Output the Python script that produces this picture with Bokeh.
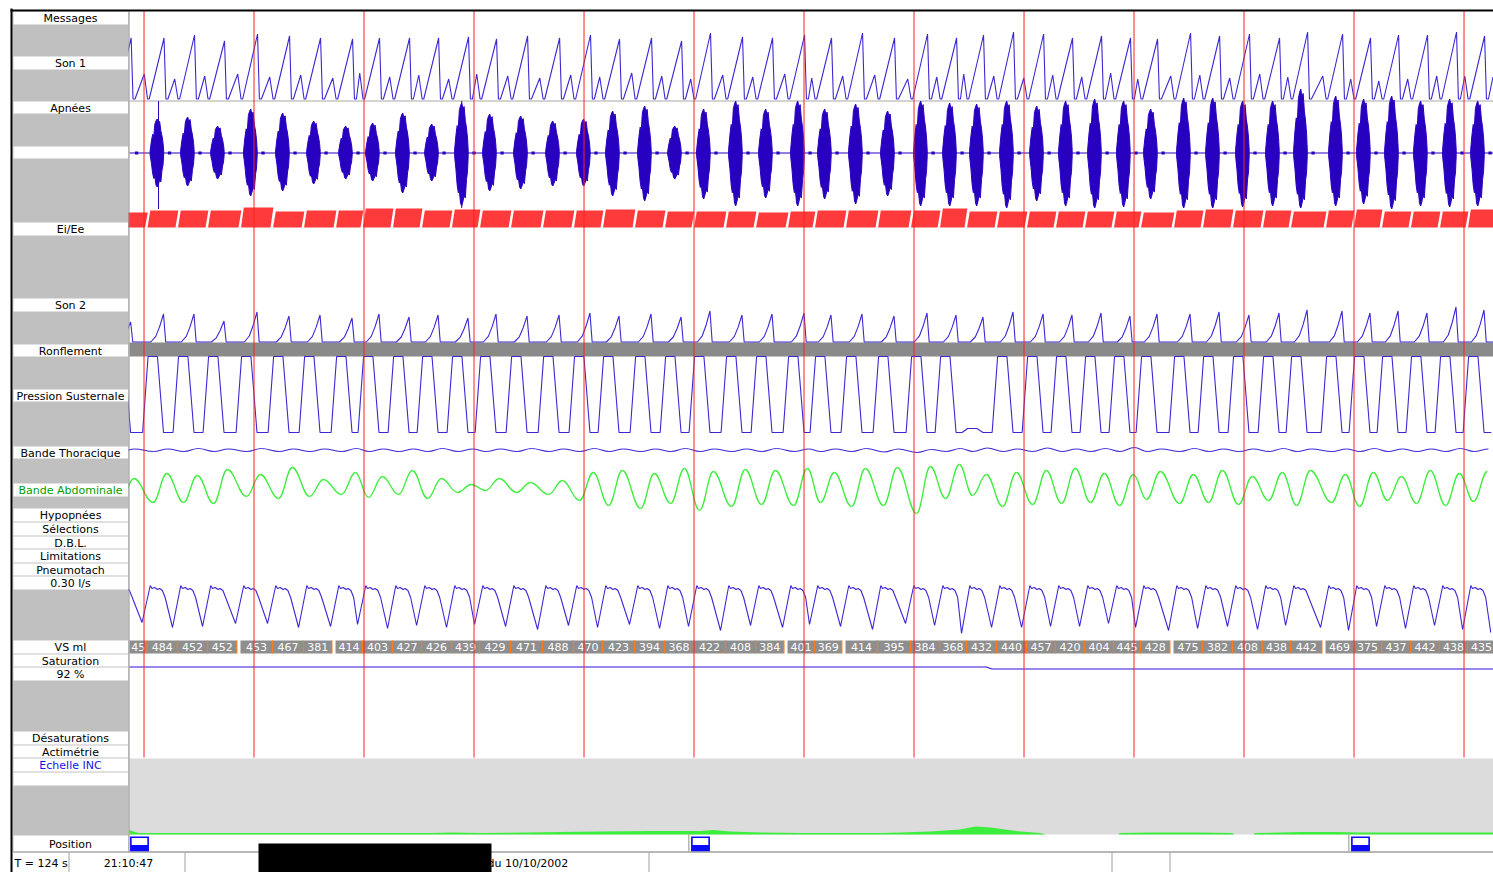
from bokeh.plotting import figure
from bokeh.models import Range1d
from bokeh.core.properties import value
from bokeh.embed import file_html
from bokeh.resources import INLINE

# ------------------------------------------------------------------ data
window_label = "T = 124 s"
start_clock = "21:10:47"
record_date = "du 10/10/2002"

breath_t = [-1.4, 1.59, 4.36, 7.09, 10.09, 13.0, 15.82, 18.73, 21.18, 23.91,
            26.55, 29.27, 31.82, 34.64, 37.55, 40.36, 43.0, 45.91, 48.64, 51.27,
            54.18, 56.91, 59.82, 62.27, 65.09, 68.0, 71.0, 73.64, 76.09, 78.82,
            81.55, 84.18, 86.82, 89.45, 91.91, 94.91, 97.55, 100.27, 103.0, 105.55,
            108.73, 111.27, 113.82, 116.45, 119.09, 121.64]
breath_end = 124.2

# tidal volume per cycle (ml)
vs_ml = [45, 484, 452, 452, 453, 467, 381, 414, 403, 427,
         426, 439, 429, 471, 488, 470, 423, 394, 368, 422,
         408, 384, 401, 369, 414, 395, 384, 368, 432, 440,
         457, 420, 404, 445, 428, 475, 382, 408, 438, 442,
         469, 375, 437, 442, 438, 435]
vs_gap_after = [3, 6, 21, 23, 34, 39]

# Son 1 : main and secondary peak heights
son1_big = [61, 61, 64, 58, 65, 63, 61, 60, 61, 61,
            61, 62, 60, 63, 61, 64, 60, 61, 58, 66,
            62, 61, 64, 61, 66, 61, 65, 61, 64, 67,
            65, 61, 63, 61, 60, 66, 63, 65, 61, 67,
            65, 61, 64, 64, 67, 63]
son1_small = [25, 20, 23, 25, 22, 24, 21, 26, 22, 24,
              20, 25, 23, 21, 24, 22, 26, 23, 20, 24,
              22, 25, 21, 23, 24, 20, 22, 25, 23, 21,
              24, 22, 26, 20, 23, 24, 21, 25, 22, 23,
              20, 18, 20, 23, 23, 22]
# Apnées : burst envelope (up / down)
apn_up = [40, 34, 36, 27, 44, 40, 32, 27, 30, 40,
          29, 50, 39, 37, 32, 34, 42, 47, 27, 44,
          52, 44, 52, 44, 49, 42, 52, 50, 49, 52,
          47, 52, 54, 52, 44, 55, 55, 52, 52, 64,
          57, 54, 57, 52, 54, 52]
apn_dn = [40, 34, 33, 26, 43, 38, 31, 26, 28, 40,
          28, 53, 38, 36, 33, 33, 43, 48, 26, 46,
          53, 45, 53, 46, 51, 43, 53, 53, 53, 55,
          48, 53, 55, 54, 46, 55, 55, 54, 53, 55,
          53, 51, 56, 53, 54, 53]
apn_spike_t = [2.64, 30.2]
apn_spike_up = [52, 52]
apn_spike_dn = [56, 55]
# Ei/Ee bar height per cycle
eie_amp = [15, 17, 17, 17, 20, 16, 17, 17, 19, 19,
           17, 18, 17, 17, 17, 17, 18, 17, 16, 16,
           16, 15, 16, 17, 17, 17, 17, 19, 16, 16,
           16, 16, 16, 16, 15, 17, 18, 17, 17, 16,
           17, 18, 16, 16, 16, 18]
# Son 2 peak heights
son2_amp = [20, 28, 28, 21, 30, 26, 27, 24, 28, 25,
            27, 24, 28, 26, 27, 29, 26, 28, 25, 31,
            27, 28, 29, 27, 28, 26, 29, 27, 25, 30,
            28, 27, 29, 26, 28, 28, 30, 27, 29,
            32, 31, 29, 31, 29, 35, 32]
# Pression susternale swing (76 = full scale)
pres_amp = [76] * 28 + [4] + [76] * 17
# Bande thoracique
thor_bump = [1.5, 1.5, 2, 1.5, 2, 1.5, 1.5, 2, 1.5, 1.5,
             2, 1.5, 1.5, 2, 1.5, 2, 1.5, 1.5, 2, 1.5,
             1.5, 2, 1.5, 1.5, 2, 1.5, 1, 2, 2.5, 1.5,
             2.5, 1.5, 2, 3, 1.5, 2, 1.5, 1.5, 2, 1.5,
             1.5, 2, 1.5, 1.5, 2, 1.5]
thor_dip = [1, 1, 1, 1, 1, 1, 1, 1, 1, 1,
            1, 1, 1, 1, 1, 1, 1, 1, 1, 1,
            1, 1, 1, 1, 1, 1.5, 2, 1, 1, 1,
            1, 1, 1, 1, 1, 1, 1, 1, 1, 1,
            1, 1, 1, 1, 1, 1]
# Bande abdominale : peak / trough per cycle
abd_peak = [10, 15, 13, 19, 14, 21, 9, 16, 12, 18,
            10, 4, 10, 6, 8, 16, 18, 15, 20, 17,
            19, 18, 20, 16, 20, 21, 22, 24, 14, 16,
            18, 20, 15, 14, 17, 14, 18, 12, 16, 18,
            14, 16, 12, 18, 15, 17]
abd_trough = [-12, -14, -14, -15, -8, -10, -8, -6, -9, -6,
              -10, -4, -2, -4, -6, -12, -17, -20, -15, -22,
              -18, -16, -17, -14, -18, -17, -25, -10, -7, -18,
              -16, -15, -14, -17, -11, -15, -14, -16, -12, -17,
              -14, -18, -12, -15, -17, -13]
# Pneumotach : inspiratory dip depth
pn_depth = [34, 39, 38, 35, 35, 39, 38, 36, 40, 37,
            39, 36, 38, 41, 37, 39, 36, 40, 38, 42,
            37, 39, 36, 38, 41, 35, 37, 45, 39, 39,
            38, 38, 35, 39, 42, 40, 38, 41, 37, 39,
            42, 38, 40, 37, 41, 44]
# Saturation (%)
sat_t = [0.0, 77.9, 78.4, 124.2]
sat_pct = [92.0, 92.0, 91.8, 91.8]
# Actimetry (INC scale)
inc_t = [0, 0.36, 0.82, 15.5, 27.4, 29.2, 31.9, 39.2, 42.8, 47.4,
         51.9, 53.1, 54.6, 57.4, 61.0, 68.3, 70.1, 72.8, 75.5, 76.9,
         78.3, 79.6, 81.0, 82.8, 83.3, 89.9, 90.0, 92.8, 97.2, 100.3,
         100.4, 102.2, 102.3, 106.5, 109.5, 111.9, 124.0]
inc_h = [4.5, 3, 1.5, 1.5, 1.5, 2, 1.5, 2.5, 3, 3.5,
         3.5, 4.5, 3, 2, 1.5, 1.5, 2, 3, 5, 8,
         7, 5, 3, 1.5, 0, 0, 1.5, 2, 2, 1.5,
         0, 0, 1.5, 2.5, 2.5, 2, 2]
# body position records
position_t = [0.0, 51.0, 111.0]
# 10 s time marks
mark_t = [1.32, 11.32, 21.32, 31.32, 41.32, 51.32, 61.32, 71.32, 81.32,
          91.32, 101.32, 111.32, 121.32]

# ------------------------------------------------------------------ layout
W, H = 1493, 872
PXS = 11.0                       # pixels per second


def X(px):
    return (px - 129) / PXS


FONT = value("DejaVu Sans")
BLUE = "#3a28d4"
DBLUE = "#2800c0"
GREEN = "#3cee3c"
RED = "#ff2020"
END = X(1493)

p = figure(width=W, height=H, x_range=Range1d(X(0), X(W)),
           y_range=Range1d(H, 0), output_backend="svg",
           toolbar_location=None, x_axis_location=None, y_axis_location=None,
           min_border=0, outline_line_color=None,
           background_fill_color="white", border_fill_color="white")
for g in p.grid:
    g.visible = False

nexts = breath_t[1:] + [breath_end]

# backgrounds
p.quad(left=0, right=END, top=758, bottom=834, fill_color="#dcdcdc", line_color=None)
p.quad(left=0, right=END, top=342, bottom=356, fill_color="#8a8a8a", line_color=None)
p.segment(x0=0, y0=100.5, x1=END, y1=100.5, line_color="#a8a8a8", line_width=1)

# Son 1
S1 = 98.5
sx, sy = [], []
for b, nb, big, small in zip(breath_t, nexts, son1_big, son1_small):
    sx += [b + 0.05, b + 0.2, b + 1.55, b + 1.72, b + 1.9, nb - 0.25]
    sy += [S1, S1, S1 - big, S1, S1, S1 - small]
p.line(sx, sy, line_color=BLUE, line_width=1.1)

# Apnées
A0 = 152.5
p.segment(x0=0, y0=A0, x1=END, y1=A0, line_color=DBLUE, line_width=1.2)
dxs = [-1.0, -0.8, -0.62, -0.45, -0.3, -0.12, 0.05, 0.22, 0.4, 0.58, 0.75, 0.9, 1.0]
fu = [0.05, 0.35, 0.55, 0.5, 0.85, 0.95, 1.0, 0.88, 0.93, 0.65, 0.5, 0.3, 0.05]
fd = [0.05, 0.3, 0.6, 0.75, 0.7, 0.95, 1.0, 0.92, 0.8, 0.85, 0.5, 0.35, 0.05]
bxs, bys = [], []
for b, u, d in zip(breath_t[1:], apn_up[1:], apn_dn[1:]):
    c, w = b + 0.9, 0.62
    xs = [c + k * w for k in dxs] + [c + k * w for k in reversed(dxs)]
    ys = [A0 - f * u for f in fu] + [A0 + f * d for f in reversed(fd)]
    bxs.append(xs)
    bys.append(ys)
p.patches(bxs, bys, fill_color=DBLUE, line_color=DBLUE, line_width=1)
p.quad(left=[b + 1.9 for b in breath_t], right=[b + 2.2 for b in breath_t],
       top=A0 - 1.5, bottom=A0 + 1.5, fill_color=DBLUE, line_color=None)
p.segment(x0=apn_spike_t, x1=apn_spike_t,
          y0=[A0 - u for u in apn_spike_up], y1=[A0 + d for d in apn_spike_dn],
          line_color=DBLUE, line_width=1)

# Ei/Ee bars
E0 = 227
rx, ry = [], []
for b, nb, a in zip(breath_t, nexts, eie_amp):
    rx.append([b + 0.05, nb - 0.18, nb + 0.08, b + 0.3])
    ry.append([E0, E0, E0 - a, E0 - a])
p.patches(rx, ry, fill_color="#ff3a3a", line_color=None)

# Son 2
S2 = 341.5
tx, ty = [], []
for b, a in zip(breath_t, son2_amp):
    tx += [b + 0.35, b + 0.8, b + 1.15, b + 1.5, b + 1.7]
    ty += [S2, S2 - 0.2 * a, S2 - 0.55 * a, S2 - a, S2]
tx.append(breath_end + 0.35)
ty.append(S2)
p.line(tx, ty, line_color=BLUE, line_width=1.1)

# Pression susternale
PB = 432
qx, qy = [], []
for b, a in zip(breath_t, pres_amp):
    qx += [b - 0.4, b + 0.1, b + 0.95, b + 1.5]
    qy += [PB, PB - a, PB - a, PB]
qx.append(breath_end - 0.4)
qy.append(PB)
p.line(qx, qy, line_color=BLUE, line_width=1.1)


def bez(xs, ys, color, lw):
    x0, x1, y0, y1 = xs[:-1], xs[1:], ys[:-1], ys[1:]
    cx0 = [a + 0.4 * (c - a) for a, c in zip(x0, x1)]
    cx1 = [c - 0.4 * (c - a) for a, c in zip(x0, x1)]
    p.bezier(x0=x0, y0=y0, x1=x1, y1=y1, cx0=cx0, cy0=y0, cx1=cx1, cy1=y1,
             line_color=color, line_width=lw)


# Bande thoracique
T0 = 450
hx, hy = [], []
for b, dp, bp in zip(breath_t, thor_dip, thor_bump):
    hx += [b + 0.6, b + 1.9]
    hy += [T0 + dp, T0 - bp]
bez(hx, hy, BLUE, 1.1)

# Bande abdominale
G0 = 488
gx, gy = [], []
for b, tr, pk in zip(breath_t, abd_trough, abd_peak):
    gx += [b + 0.55, b + 1.8]
    gy += [G0 - tr, G0 - pk]
bez(gx, gy, GREEN, 1.3)

# Pneumotach
N0 = 588
nx, ny = [], []
for b, nb, d in zip(breath_t, nexts, pn_depth):
    nx += [b + 0.3, b + 0.45, b + 0.7, b + 0.95, b + 1.15, b + 1.4, b + 1.65, nb - 0.45]
    ny += [N0 - 3, N0, N0 - 1, N0 + 1, N0, N0 + 2, N0 + 9, N0 + d]
p.line(nx, ny, line_color=BLUE, line_width=1.1)

# VS ml boxes
vl, vr, vc = [], [], []
for i, (b, nb) in enumerate(zip(breath_t, nexts)):
    left = max(b, 0.0)
    right = nb - (0.33 if i in vs_gap_after else 0.0)
    vl.append(left)
    vr.append(right)
    vc.append((left + right) / 2)
p.quad(left=vl, right=vr, top=640, bottom=653, fill_color="#8e8e8e", line_color=None)
p.segment(x0=vr[:-1], x1=vr[:-1], y0=640, y1=653, line_color="#ff7a1a", line_width=1.2)
p.text(x=vc, y=646.8, text=[str(v) for v in vs_ml], text_font=FONT,
       text_font_size="11px", text_color="white", text_align="center",
       text_baseline="middle")

# Saturation
p.line(sat_t, [666.5 + (92 - v) * 10 for v in sat_pct], line_color="#3010e0", line_width=1.2)

# Actimetry
p.varea(x=inc_t, y1=[834] * len(inc_t), y2=[834 - h for h in inc_h], fill_color=GREEN)

# 10-s marks
p.segment(x0=mark_t, x1=mark_t, y0=10, y1=757, line_color=RED, line_width=1)

# Position row
p.segment(x0=0, y0=851.5, x1=END, y1=851.5, line_color="#a0a0a0", line_width=1)
p.segment(x0=[t - 0.15 for t in position_t[1:]], x1=[t - 0.15 for t in position_t[1:]],
          y0=834, y1=851, line_color="#909090", line_width=1)
p.quad(left=[t + 0.05 for t in position_t], right=[t + 1.77 for t in position_t],
       top=836, bottom=851, fill_color="#0a0aff", line_color=None)
p.quad(left=[t + 0.2 for t in position_t], right=[t + 1.62 for t in position_t],
       top=837.5, bottom=844.5, fill_color="white", line_color=None)

# ------------------------------------------------------------------ label panel
p.quad(left=X(12), right=X(128), top=11, bottom=852, fill_color="#c0c0c0", line_color=None)
p.segment(x0=X(128.5), x1=X(128.5), y0=11, y1=852, line_color="#8c8c8c", line_width=1)
rows = [("Messages", 11, 24, "black"), ("Son 1", 56, 69, "black"),
        ("Apnées", 101, 113, "black"), ("", 146, 158, "black"),
        ("Ei/Ee", 222, 235, "black"), ("Son 2", 298, 311, "black"),
        ("Ronflement", 344, 356, "black"), ("Pression Susternale", 389, 401, "black"),
        ("Bande Thoracique", 446, 458, "black"), ("Bande Abdominale", 483, 496, "#00a000"),
        ("Hypopnées", 508, 521, "black"), ("Sélections", 522, 535, "black"),
        ("D.B.L.", 536, 548, "black"), ("Limitations", 549, 562, "black"),
        ("Pneumotach", 563, 575, "black"), ("0.30 l/s", 576, 589, "black"),
        ("VS ml", 640, 653, "black"), ("Saturation", 654, 666, "black"),
        ("92 %", 667, 680, "black"), ("Désaturations", 731, 744, "black"),
        ("Actimétrie", 745, 757, "black"), ("Echelle INC", 758, 771, "#1414e6"),
        ("", 772, 785, "black"), ("Position", 835, 851, "black")]
p.quad(left=X(13), right=X(127.5), top=[r[1] for r in rows], bottom=[r[2] for r in rows],
       fill_color="white", line_color=None)
p.text(x=X(70), y=[(r[1] + r[2]) / 2 + 0.5 for r in rows], text=[r[0] for r in rows],
       text_color=[r[3] for r in rows], text_font=FONT, text_font_size="11px",
       text_align="center", text_baseline="middle")

# frame
p.quad(left=X(10), right=X(12), top=8, bottom=872, fill_color="black", line_color=None)
p.quad(left=X(10), right=END + 1, top=9, bottom=11, fill_color="black", line_color=None)

# status bar
p.segment(x0=X(12), x1=END, y0=851.5, y1=851.5, line_color="#a0a0a0", line_width=1)
seps = [68.5, 184.5, 648.5, 1111.5, 1169.5]
p.segment(x0=[X(s) for s in seps], x1=[X(s) for s in seps], y0=852, y1=872,
          line_color="#a0a0a0", line_width=1)
p.text(x=[X(14), X(128), X(487)], y=862.5, text=[window_label, start_clock, record_date],
       text_align=["left", "center", "left"], text_baseline="middle",
       text_font=FONT, text_font_size="11px", text_color="black")
p.quad(left=X(258), right=X(491), top=843, bottom=872, fill_color="black", line_color=None)

open("out.html", "w").write(file_html(p, INLINE))
